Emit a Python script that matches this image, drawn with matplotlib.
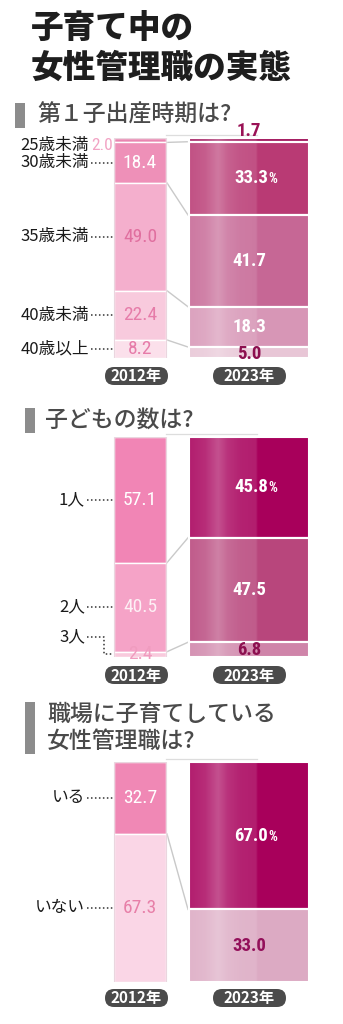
import numpy as np
import matplotlib
matplotlib.use("Agg")
import matplotlib.pyplot as plt
from matplotlib import font_manager
from matplotlib.patches import FancyBboxPatch, Rectangle

# ---------------- data ----------------
title_lines = ["子育て中の", "女性管理職の実態"]
years = ["2012年", "2023年"]

q1_title = ["第１子出産時期は?"]
q1_categories = ["25歳未満", "30歳未満", "35歳未満", "40歳未満", "40歳以上"]
q1_2012 = [2.0, 18.4, 49.0, 22.4, 8.2]
q1_2023 = [1.7, 33.3, 41.7, 18.3, 5.0]

q2_title = ["子どもの数は?"]
q2_categories = ["1人", "2人", "3人"]
q2_2012 = [57.1, 40.5, 2.4]
q2_2023 = [45.8, 47.5, 6.8]

q3_title = ["職場に子育てしている", "女性管理職は?"]
q3_categories = ["いる", "いない"]
q3_2012 = [32.7, 67.3]
q3_2023 = [67.0, 33.0]

# ---------------- fonts ----------------
avail = {f.name for f in font_manager.fontManager.ttflist}


def pick(*names):
    for n in names:
        if n in avail:
            return n
    return "DejaVu Sans"


JP = [pick("Noto Sans CJK JP", "Noto Sans CJK SC"), "DejaVu Sans"]
NUM = [pick("Roboto Condensed", "Liberation Sans Narrow", "Roboto", "Liberation Sans"), "DejaVu Sans"]

W, H = 343, 1024
fig = plt.figure(figsize=(W / 100, H / 100), dpi=100)
bg = fig.add_axes([0, 0, 1, 1])
bg.set_xlim(0, W)
bg.set_ylim(H, 0)
bg.axis("off")

# title
for i, line in enumerate(title_lines):
    bg.text(31, 28 + 40 * i, line, family=JP, weight="black", fontsize=23.5,
            color="#1e1e1e", ha="left", va="center")

X12, W12 = 140, 52
X23, W23 = 249, 120
L12, R12 = X12 - W12 / 2, X12 + W12 / 2
L23, R23 = X23 - W23 / 2, X23 + W23 / 2


def header(lines, bar_x, text_x, top, line_h=27):
    n = len(lines)
    bg.add_patch(Rectangle((bar_x, top), 10, line_h * n - 2, fc="#8c8c8c", ec="none"))
    for i, t in enumerate(lines):
        bg.text(text_x, top + 12 + line_h * i, t, family=JP, fontsize=16.5,
                weight="medium", color="#4a4a4a", ha="left", va="center")


def pill(cx, w, cy, txt):
    bg.add_patch(FancyBboxPatch((cx - w / 2, cy - 9), w, 18,
                                boxstyle="round,pad=0,rounding_size=9",
                                fc="#4b4b4b", ec="none"))
    bg.text(cx, cy + 0.5, txt, family=JP, weight="bold", fontsize=11,
            color="white", ha="center", va="center")


def grad_image():
    xs = np.linspace(L23, R23, 240)
    gx = [L23, 205, 218, 228, 240, 256, 258, R23]
    ga = [0.12, 0.18, 0.32, 0.20, 0.14, 0.12, 0.0, 0.0]
    img = np.ones((1, len(xs), 4))
    img[0, :, 3] = np.interp(xs, gx, ga)
    return img


def chart(top, v12, v23, c12, c23, lab12_col, lab23_col, pct_index, cats,
          label_right, special=None, height=220):
    ax = fig.add_axes([0, 1 - (top + height) / H, 1, height / H])
    ax.axis("off")
    v12 = np.asarray(v12)
    v23 = np.asarray(v23)
    b12 = np.concatenate([[0], np.cumsum(v12)[:-1]])
    b23 = np.concatenate([[0], np.cumsum(v23)[:-1]])
    ax.bar(X12, v12, width=W12, bottom=b12, color=c12, edgecolor="white",
           linewidth=1.0, zorder=2)
    ax.add_patch(Rectangle((L12, 0), W12, 100, fc="none", ec="#ead6df",
                           lw=0.8, zorder=2.5))
    ax.bar(X23, v23, width=W23, bottom=b23, color=c23, edgecolor="white",
           linewidth=1.5, zorder=2)
    ax.imshow(grad_image(), extent=(L23, R23, 100, 0), aspect="auto",
              interpolation="bilinear", zorder=3)
    for y in np.cumsum(v23)[:-1]:
        ax.plot([L23, R23], [y, y], color="white", lw=1.5, zorder=3.5)
    ax.set_xlim(0, W)
    ax.set_ylim(100, 0)

    # connectors
    ax.plot([R12, 257], [-1.2, -1.2], color="#dddddd", lw=0.9, zorder=1,
            clip_on=False)
    for a, b in zip(np.cumsum(v12)[:-1], np.cumsum(v23)[:-1]):
        ax.plot([R12 + 1, L23 - 1], [a, b], color="#c9c9c9", lw=1.0, zorder=1)

    c12m = b12 + v12 / 2
    c23m = b23 + v23 / 2
    # 2012 values
    for i, v in enumerate(v12):
        y = c12m[i]
        x = X12
        ha = "center"
        fs = 14
        if special and i in special.get("v12", {}):
            x, y, ha, fs = special["v12"][i]
        ax.text(x, y, f"{v:.1f}", family=NUM, fontsize=fs, color=lab12_col[i],
                ha=ha, va="center", zorder=4, clip_on=False)
    # 2023 values
    for i, v in enumerate(v23):
        y = c23m[i]
        if special and i in special.get("v23", {}):
            y = special["v23"][i]
        if i == pct_index:
            ax.text(X23 + 19, y, f"{v:.1f}", family=NUM, weight="bold",
                    fontsize=13.5, color=lab23_col[i], ha="right", va="center",
                    zorder=4)
            ax.text(X23 + 19.5, y + 0.4, "%", family=NUM, weight="bold",
                    fontsize=10, color=lab23_col[i], ha="left", va="center",
                    zorder=4)
        else:
            ax.text(X23, y, f"{v:.1f}", family=NUM, weight="bold", fontsize=13.5,
                    color=lab23_col[i], ha="center", va="center", zorder=4,
                    clip_on=False)
    # category labels with leaders
    for i, cat in enumerate(cats):
        y = c12m[i]
        leader = True
        if special and i in special.get("cat", {}):
            y, leader = special["cat"][i]
        ax.text(label_right, y, cat, family=JP, fontsize=12, color="#1a1a1a",
                ha="right", va="center", clip_on=False)
        if leader == "elbow":
            ax.plot([label_right + 2, 104, 104, L12 - 1],
                    [y, y, c12m[i], c12m[i]], color="#333333", lw=1.1,
                    linestyle=(0, (1, 1.6)), clip_on=False)
        elif leader:
            ax.plot([label_right + 2, L12 - 1], [y, y], color="#333333",
                    lw=1.1, linestyle=(0, (1, 1.6)), clip_on=False)
    return ax


# ---------- section 1 ----------
header(q1_title, 15, 37, 103)
chart(138, q1_2012, q1_2023,
      ["#e985b0", "#ee90b8", "#f4afcd", "#f8cadd", "#fbe0eb"],
      ["#a3165e", "#b93a74", "#c66795", "#d796b6", "#e8c6d6"],
      ["#f2a3c4", "white", "#e06f9f", "#e67ca9", "#e67ca9"],
      ["#9a1256", "white", "white", "white", "#8c0f4f"],
      1, q1_categories, 89,
      special={"v12": {0: (113, 3.4, "right", 12.5)},
               "v23": {0: -3.4, 4: 98.0},
               "cat": {0: (3.4, False)}})
pill(136.5, 63, 376, years[0])
pill(249.5, 73, 376, years[1])

# ---------- section 2 ----------
header(q2_title, 25, 45, 408)
chart(437, q2_2012, q2_2023,
      ["#f185b5", "#f5a3c7", "#f9cadd"],
      ["#a8005b", "#b8467c", "#cf84a9"],
      ["white", "#fdf0f5", "#f09cbf"],
      ["white", "white", "#8c0f4f"],
      0, q2_categories, 85,
      special={"v12": {2: (X12, 98.6, "center", 14)},
               "cat": {2: (91.0, "elbow")}})
pill(136.5, 63, 675, years[0])
pill(249.5, 73, 675, years[1])

# ---------- section 3 ----------
header(q3_title, 25, 47, 702)
chart(762, q3_2012, q3_2023,
      ["#f088b5", "#fad6e6"],
      ["#a8005b", "#dcaac3"],
      ["white", "#e77fa8"],
      ["white", "#93105a"],
      0, q3_categories, 85)
pill(136.5, 63, 998, years[0])
pill(249.5, 73, 998, years[1])

fig.savefig("out.png", dpi=100, facecolor="white")
